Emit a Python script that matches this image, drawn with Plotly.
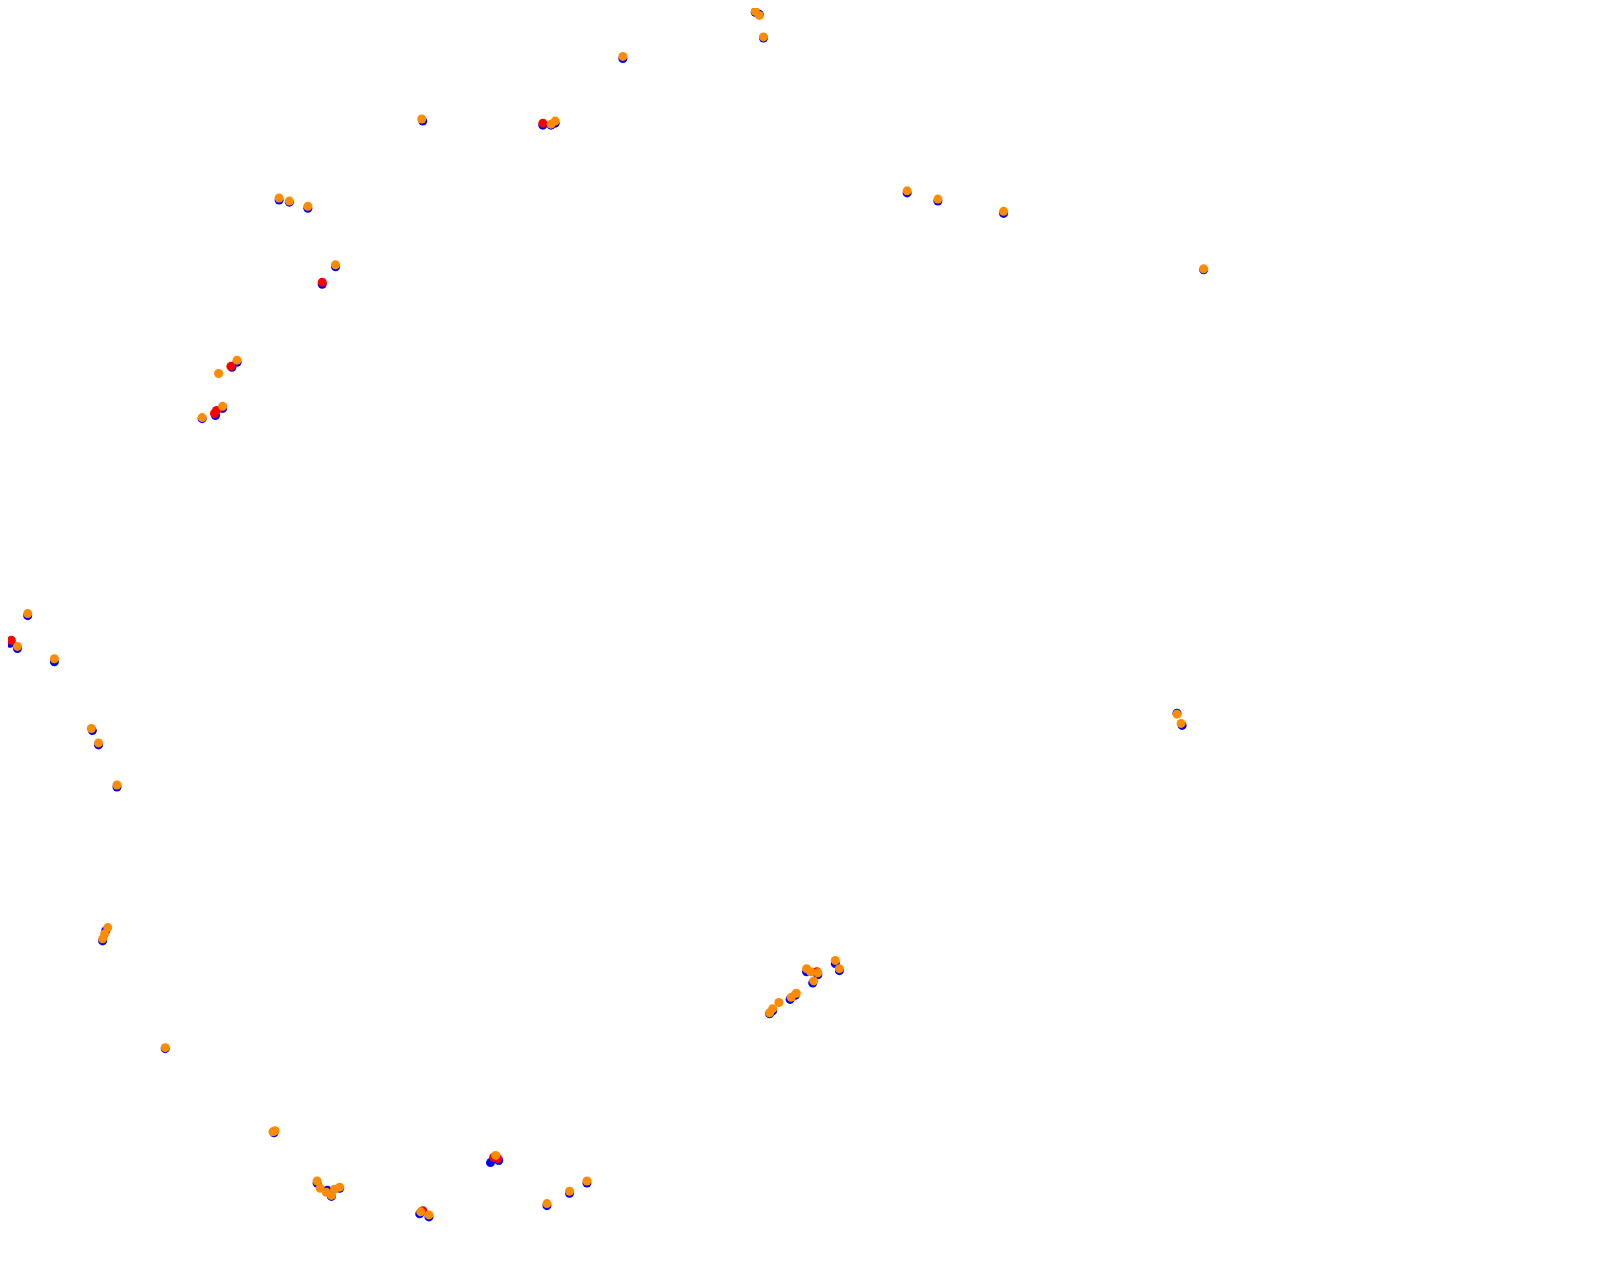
import plotly.graph_objects as go

# Positions (image units, y grows downward)
blue_x = [529, 537, 541, 607, 744, 740, 736, 412, 272, 282, 300, 327, 314, 231, 226, 217, 210, 197,
          884, 914, 978, 1173, 27, 10, 17, 53, 90, 96, 114, 1147, 1152, 103, 100, 814, 818, 786, 792,
          797, 770, 775, 750, 753, 161, 267, 309, 319, 323, 331, 478, 486, 409, 418, 533, 555, 572]
blue_y = [122, 122, 120, 57, 37, 14, 12, 118, 195, 197, 203, 260, 277, 353, 358, 398, 405, 408,
          188, 196, 208, 263, 600, 627, 632, 645, 712, 726, 767, 695, 707, 907, 917, 939, 946, 947, 958,
          950, 974, 970, 988, 985, 1022, 1104, 1153, 1160, 1166, 1158, 1133, 1131, 1183, 1186, 1175, 1163, 1153]

red_x = [529, 314, 225, 211, 209, 11, 481, 485, 412, 796]
red_y = [120, 275, 357, 400, 403, 624, 1128, 1129, 1180, 947]

orange_x = [736, 740, 744, 607, 411, 541, 537, 272, 282, 300, 327, 231, 213, 217, 197,
            884, 914, 978, 1173, 27, 17, 53, 89, 96, 114, 1147, 1151, 105, 102, 100,
            814, 818, 786, 790, 797, 793, 776, 771, 759, 753, 750, 161, 268, 266,
            309, 312, 318, 326, 331, 323, 483, 410, 418, 572, 555, 533]
orange_y = [11, 15, 36, 55, 116, 118, 121, 193, 196, 201, 258, 351, 364, 396, 407,
            186, 194, 206, 262, 598, 630, 642, 710, 724, 765, 696, 705, 904, 910, 915,
            936, 944, 944, 947, 948, 956, 968, 972, 977, 983, 987, 1021, 1102, 1103,
            1151, 1158, 1162, 1159, 1157, 1165, 1126, 1181, 1184, 1151, 1161, 1173]

fig = go.Figure()
fig.add_trace(go.Scatter(x=blue_x, y=blue_y, mode="markers", cliponaxis=False,
                         marker=dict(color="#0000ff", size=9, line=dict(width=0)), name="blue"))
fig.add_trace(go.Scatter(x=red_x, y=red_y, mode="markers", cliponaxis=False,
                         marker=dict(color="#ff0000", size=9, line=dict(width=0)), name="red"))
fig.add_trace(go.Scatter(x=orange_x, y=orange_y, mode="markers", cliponaxis=False,
                         marker=dict(color="#ff8c00", size=9, line=dict(width=0)), name="orange"))

fig.update_layout(
    width=1609, height=1282,
    margin=dict(l=0, r=0, t=0, b=0),
    paper_bgcolor="white", plot_bgcolor="white",
    showlegend=False,
    xaxis=dict(range=[7.8, 1575.8], visible=False, showgrid=False, zeroline=False),
    yaxis=dict(range=[1257.2, 7.8], visible=False, showgrid=False, zeroline=False),
)
fig.write_html("out.html")
